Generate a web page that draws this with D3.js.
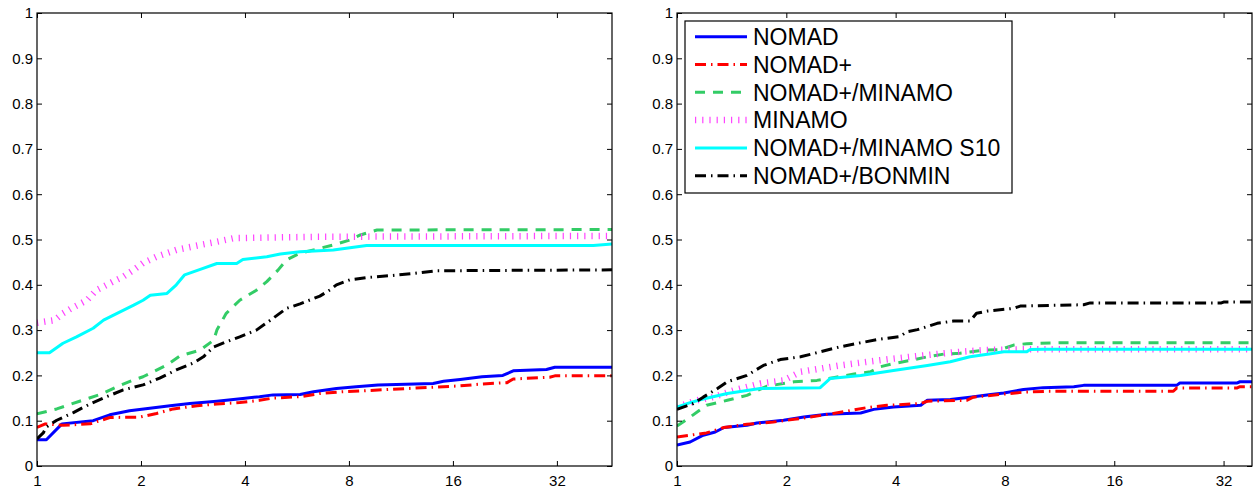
<!DOCTYPE html>
<html>
<head>
<meta charset="utf-8">
<script src="https://cdn.jsdelivr.net/npm/d3@7"></script>
<style>
  html, body { margin: 0; padding: 0; background: #fff; }
  svg { display: block; font-family: "Liberation Sans", Arial, Helvetica, sans-serif; }
</style>
</head>
<body>
<svg id="chart" width="1253" height="489"></svg>
<script>
// log2(tau) ticks and their labels, rho ticks
var xTicks = [0, 1, 2, 3, 4, 5];
var xTickLabels = ["1", "2", "4", "8", "16", "32"];
var yTicks = [0, 0.1, 0.2, 0.3, 0.4, 0.5, 0.6, 0.7, 0.8, 0.9, 1];
var yTickLabels = ["0", "0.1", "0.2", "0.3", "0.4", "0.5", "0.6", "0.7", "0.8", "0.9", "1"];

var seriesNames = ["NOMAD", "NOMAD+", "NOMAD+/MINAMO", "MINAMO", "NOMAD+/MINAMO S10", "NOMAD+/BONMIN"];

// left profile: [log2(tau), rho]
var leftNomad = [[0,0.058],[0.09,0.058],[0.24,0.093],[0.54,0.10],[0.70,0.113],[0.89,0.122],[1.28,0.133],[1.47,0.138],[1.73,0.143],[1.98,0.149],[2.14,0.153],[2.27,0.157],[2.53,0.158],[2.66,0.164],[2.88,0.171],[3.07,0.175],[3.28,0.179],[3.81,0.182],[3.91,0.187],[4.07,0.191],[4.28,0.197],[4.48,0.20],[4.58,0.21],[4.90,0.213],[4.98,0.218],[5.53,0.218]];
var leftNomadPlus = [[0,0.085],[0.08,0.093],[0.25,0.09],[0.51,0.093],[0.70,0.107],[0.99,0.108],[1.15,0.116],[1.31,0.126],[1.54,0.133],[1.73,0.137],[1.95,0.14],[2.14,0.145],[2.27,0.15],[2.53,0.153],[2.72,0.16],[2.94,0.164],[3.14,0.166],[3.81,0.174],[4.07,0.177],[4.28,0.181],[4.52,0.184],[4.58,0.192],[4.93,0.196],[4.98,0.199],[5.53,0.199]];
var leftHybrid = [[0,0.115],[0.19,0.126],[0.41,0.143],[0.61,0.158],[0.77,0.175],[0.93,0.19],[1.02,0.197],[1.25,0.223],[1.375,0.243],[1.57,0.256],[1.70,0.278],[1.73,0.30],[1.82,0.337],[1.95,0.366],[2.11,0.388],[2.21,0.407],[2.32,0.433],[2.40,0.455],[2.53,0.47],[2.66,0.477],[2.85,0.488],[3.01,0.499],[3.11,0.51],[3.27,0.521],[5.53,0.522]];
var leftMinamo = [[0,0.316],[0.17,0.322],[0.25,0.337],[0.33,0.348],[0.48,0.366],[0.57,0.388],[0.73,0.407],[0.83,0.418],[0.93,0.433],[1.02,0.448],[1.15,0.462],[1.34,0.477],[1.57,0.488],[1.73,0.495],[1.89,0.503],[2.7,0.506],[5.53,0.508]];
var leftS10 = [[0,0.25],[0.12,0.25],[0.25,0.271],[0.38,0.285],[0.54,0.304],[0.64,0.322],[0.77,0.337],[0.93,0.355],[1.02,0.366],[1.09,0.377],[1.25,0.381],[1.34,0.40],[1.42,0.422],[1.57,0.434],[1.73,0.447],[1.92,0.447],[1.98,0.456],[2.21,0.462],[2.34,0.468],[2.53,0.473],[2.85,0.477],[3.01,0.482],[3.17,0.487],[5.35,0.487],[5.53,0.49]];
var leftBonmin = [[0,0.06],[0.06,0.073],[0.09,0.086],[0.19,0.101],[0.35,0.118],[0.51,0.137],[0.67,0.153],[0.83,0.168],[1.02,0.179],[1.18,0.194],[1.34,0.212],[1.50,0.227],[1.60,0.241],[1.70,0.263],[1.82,0.274],[1.95,0.285],[2.11,0.30],[2.27,0.326],[2.40,0.348],[2.53,0.358],[2.72,0.375],[2.82,0.389],[2.88,0.40],[3.01,0.411],[3.17,0.416],[3.39,0.42],[3.62,0.425],[3.84,0.431],[5.53,0.433]];

// right profile
var rightNomad = [[0,0.046],[0.12,0.053],[0.24,0.068],[0.35,0.075],[0.43,0.085],[0.64,0.09],[0.73,0.095],[0.975,0.101],[1.16,0.108],[1.37,0.114],[1.68,0.117],[1.80,0.125],[1.98,0.13],[2.23,0.134],[2.29,0.145],[2.50,0.147],[2.68,0.152],[2.87,0.158],[2.99,0.161],[3.17,0.169],[3.35,0.173],[3.63,0.175],[3.72,0.178],[4.57,0.178],[4.60,0.183],[5.12,0.183],[5.15,0.186],[5.26,0.186]];
var rightNomadPlus = [[0,0.064],[0.12,0.068],[0.27,0.073],[0.43,0.085],[0.64,0.092],[0.88,0.097],[1.07,0.103],[1.22,0.108],[1.43,0.116],[1.74,0.129],[1.92,0.134],[2.23,0.138],[2.29,0.143],[2.65,0.145],[2.71,0.152],[2.96,0.158],[3.17,0.163],[3.39,0.165],[4.54,0.165],[4.57,0.172],[5.12,0.172],[5.15,0.175],[5.26,0.175]];
var rightHybrid = [[0,0.088],[0.12,0.108],[0.27,0.134],[0.46,0.145],[0.64,0.156],[0.82,0.176],[1.07,0.186],[1.28,0.189],[1.43,0.195],[1.62,0.203],[1.77,0.208],[1.86,0.219],[1.98,0.226],[2.13,0.233],[2.29,0.241],[2.44,0.247],[2.59,0.249],[2.81,0.256],[2.96,0.257],[3.08,0.267],[3.20,0.27],[3.5,0.272],[5.26,0.272]];
var rightMinamo = [[0,0.13],[0.18,0.145],[0.33,0.152],[0.52,0.167],[0.76,0.182],[0.975,0.189],[1.13,0.208],[1.31,0.215],[1.49,0.222],[1.74,0.23],[1.98,0.237],[2.29,0.245],[2.53,0.251],[2.81,0.256],[3.26,0.258],[5.26,0.258]];
var rightS10 = [[0,0.13],[0.12,0.14],[0.24,0.148],[0.46,0.16],[0.76,0.171],[1.31,0.173],[1.40,0.193],[1.68,0.20],[1.98,0.211],[2.29,0.222],[2.50,0.23],[2.68,0.241],[2.87,0.248],[2.99,0.252],[3.20,0.252],[3.23,0.257],[3.35,0.258],[5.26,0.258]];
var rightBonmin = [[0,0.125],[0.15,0.138],[0.24,0.152],[0.37,0.171],[0.46,0.186],[0.64,0.20],[0.79,0.222],[0.945,0.235],[1.13,0.241],[1.31,0.252],[1.49,0.263],[1.68,0.272],[1.83,0.279],[2.04,0.286],[2.10,0.296],[2.20,0.301],[2.38,0.315],[2.53,0.32],[2.68,0.32],[2.74,0.337],[2.84,0.342],[3.08,0.348],[3.14,0.353],[3.72,0.356],[3.78,0.36],[4.98,0.36],[5.0,0.362],[5.26,0.362]];

var styles = [
    { color: "#0000ff", width: 3, dash: null },
    { color: "#ff0000", width: 3, dash: "11,5,1.5,5" },
    { color: "#33cc66", width: 3, dash: "10,8" },
    { color: "#ff44ff", width: 6.5, dash: "1.2,6" },
    { color: "#00ffff", width: 3, dash: null },
    { color: "#000000", width: 3, dash: "11,5,1.5,5" }
];

var svg = d3.select("#chart");
var plotTop = 13, plotBottom = 466;
var tickFont = "15px";

var styleTicks = function (g) {
    g.attr("font-size", tickFont).attr("font-family", "'Liberation Sans', Arial, sans-serif");
    g.select(".domain").remove();
    g.selectAll("line").attr("stroke", "#000");
    g.selectAll("text").attr("fill", "#000");
};

var drawPanel = function (id, left, right, xMax, series) {
    var x = d3.scaleLinear().domain([0, xMax]).range([left, right]);
    var y = d3.scaleLinear().domain([0, 1]).range([plotBottom, plotTop]);
    var g = svg.append("g").attr("class", "panel-" + id);

    g.append("clipPath").attr("id", "clip-" + id)
        .append("rect")
        .attr("x", left).attr("y", plotTop)
        .attr("width", right - left).attr("height", plotBottom - plotTop);

    var line = d3.line()
        .x(function (d) { return x(d[0]); })
        .y(function (d) { return y(d[1]); });

    g.append("g")
        .attr("clip-path", "url(#clip-" + id + ")")
        .selectAll("path")
        .data(series)
        .join("path")
        .attr("fill", "none")
        .attr("stroke", function (d, i) { return styles[i].color; })
        .attr("stroke-width", function (d, i) { return styles[i].width; })
        .attr("stroke-dasharray", function (d, i) { return styles[i].dash; })
        .attr("stroke-linejoin", "round")
        .attr("d", line);

    g.append("g")
        .attr("transform", "translate(" + left + ",0)")
        .call(d3.axisLeft(y).tickValues(yTicks).tickSizeInner(-5).tickSizeOuter(0).tickPadding(4)
            .tickFormat(function (d, i) { return yTickLabels[i]; }))
        .call(styleTicks);
    g.append("g")
        .attr("transform", "translate(" + right + ",0)")
        .call(d3.axisRight(y).tickValues(yTicks).tickSizeInner(-5).tickSizeOuter(0).tickFormat(""))
        .call(styleTicks);
    g.append("g")
        .attr("transform", "translate(0," + plotBottom + ")")
        .call(d3.axisBottom(x).tickValues(xTicks).tickSizeInner(-5).tickSizeOuter(0).tickPadding(9)
            .tickFormat(function (d, i) { return xTickLabels[i]; }))
        .call(styleTicks);
    g.append("g")
        .attr("transform", "translate(0," + plotTop + ")")
        .call(d3.axisTop(x).tickValues(xTicks).tickSizeInner(-5).tickSizeOuter(0).tickFormat(""))
        .call(styleTicks);

    g.append("rect")
        .attr("x", left).attr("y", plotTop)
        .attr("width", right - left).attr("height", plotBottom - plotTop)
        .attr("fill", "none").attr("stroke", "#000").attr("stroke-width", 1.2);
};

drawPanel("left", 37, 612, 5.53, [leftNomad, leftNomadPlus, leftHybrid, leftMinamo, leftS10, leftBonmin]);
drawPanel("right", 677, 1252, 5.26, [rightNomad, rightNomadPlus, rightHybrid, rightMinamo, rightS10, rightBonmin]);

// legend in the right panel
var legend = svg.append("g").attr("class", "legend");
legend.append("rect")
    .attr("x", 685).attr("y", 21).attr("width", 327).attr("height", 172)
    .attr("fill", "#fff").attr("stroke", "#000").attr("stroke-width", 1.2);
var rows = legend.selectAll("g.row")
    .data(seriesNames)
    .join("g")
    .attr("class", "row")
    .attr("transform", function (d, i) { return "translate(0," + (36.7 + i * 27.8) + ")"; });
rows.append("line")
    .attr("x1", 695).attr("x2", 747)
    .attr("stroke", function (d, i) { return styles[i].color; })
    .attr("stroke-width", function (d, i) { return styles[i].width; })
    .attr("stroke-dasharray", function (d, i) { return styles[i].dash; });
rows.append("text")
    .attr("x", 753).attr("y", 8.3)
    .attr("font-size", "23px")
    .attr("fill", "#000")
    .text(function (d) { return d; });
</script>
</body>
</html>
